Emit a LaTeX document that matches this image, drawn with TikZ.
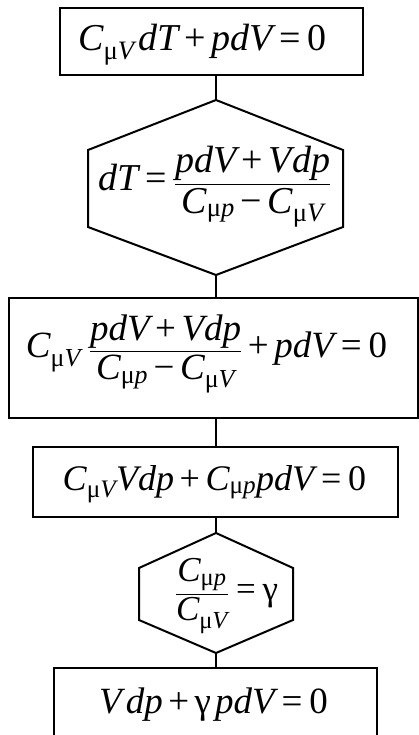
\documentclass[tikz,border=0pt]{standalone}
\usepackage{amsmath}
\usepackage{fontspec}
\setmainfont{Liberation Serif}
\newcommand{\I}[1]{\textit{#1}}
\newcommand{\Cm}[1]{\I{C}_{\text{μ\itshape #1}}}
\newcommand{\pl}{\mathbin{\text{+}}}
\newcommand{\eq}{\mathrel{\text{=}}}
\newcommand{\mn}{\mathbin{\text{−}}}
\newcommand{\gm}{\text{γ}}
\begin{document}
\begin{tikzpicture}[x=1pt,y=-1pt,
  every node/.style={inner sep=0pt},
  fs/.style={font=\fontsize{#1}{#1}\selectfont},
  frame/.style={draw, line width=2pt},
  link/.style={draw, line width=2pt}]
\useasboundingbox (0,0) rectangle (419,735);
\clip (0,0) rectangle (419,735);
% column of connectors
\coordinate (h1t) at (216,100);
\coordinate (h1b) at (216,275);
\coordinate (h2t) at (216,533);
\coordinate (h2b) at (216,653);
% box 1
\node[frame, minimum width=303pt, minimum height=67pt] (b1) at (211.5,41.5) {};
\node[fs=38, anchor=base] (t1) at (202.5,51) {$\Cm{V}\,\I{dT} \pl \I{pdV} \eq \text{0}$};
% hexagon 1
\draw[frame] (h1t) -- (343,150) -- (343,227) -- (h1b) -- (88,227) -- (88,150) -- cycle;
\node[fs=38] (t2) at (215,187) {$\I{dT} \eq \dfrac{\I{pdV} \pl \I{Vdp}}{\Cm{p} \mn \Cm{V}}$};
% box 3
\node[frame, minimum width=409pt, minimum height=120pt] (b3) at (213,358) {};
\node[fs=37] (t3) at (206.5,354) {$\Cm{V}\hspace{8pt}\dfrac{\I{pdV} \pl \I{Vdp}}{\Cm{p} \mn \Cm{V}} \pl \I{pdV} \eq \text{0}$};
% box 4
\node[frame, minimum width=365pt, minimum height=70pt] (b4) at (215.5,482) {};
\node[fs=36, anchor=base] (t4) at (214.5,490) {$\Cm{V}\I{Vdp} \pl \Cm{p}\I{pdV} \eq \text{0}$};
% hexagon 2
\draw[frame] (h2t) -- (293,568) -- (293,620) -- (h2b) -- (139,620) -- (139,568) -- cycle;
\node[fs=35] (t5) at (226.5,596) {$\dfrac{\Cm{p}}{\Cm{V}} \eq \gm$};
% box 6
\node[frame, minimum width=323pt, minimum height=90pt, anchor=north] (b6) at (215.5,667) {};
\node[fs=37, anchor=base] (t6) at (213.5,713) {$\I{V}\,\I{dp} \pl \gm\,\I{pdV} \eq \text{0}$};
% connectors
\draw[link] (b1.south -| h1t) -- (h1t);
\draw[link] (h1b) -- (b3.north -| h1b);
\draw[link] (b3.south -| h1b) -- (b4.north -| h2t);
\draw[link] (b4.south -| h2t) -- (h2t);
\draw[link] (h2b) -- (b6.north -| h2b);
\end{tikzpicture}
\end{document}
